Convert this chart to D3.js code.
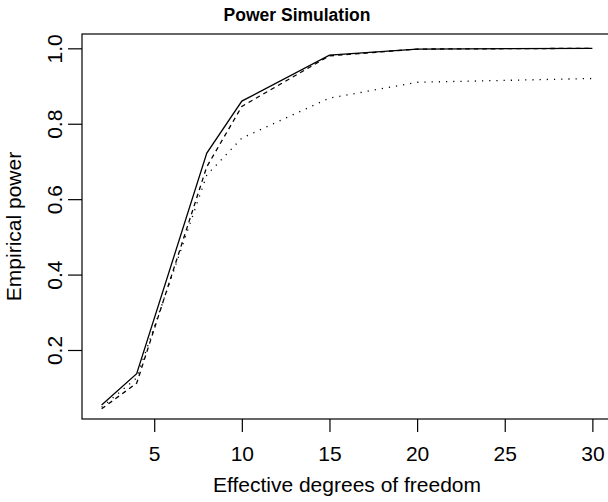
<!DOCTYPE html>
<html>
<head>
<meta charset="utf-8">
<script src="https://cdn.jsdelivr.net/npm/d3@7"></script>
<style>
  body { margin: 0; background: #fff; }
  text { font-family: "Liberation Sans", Arial, Helvetica, sans-serif; fill: #000; }
</style>
</head>
<body>
<svg id="chart"></svg>
<script>
// effective degrees of freedom and empirical power for three tests
var dfs = [2, 4, 8, 10, 15, 20, 30];
var solidPower  = [0.054, 0.137, 0.722, 0.860, 0.982, 0.998, 1.000];
var dashedPower = [0.044, 0.112, 0.686, 0.846, 0.980, 0.998, 1.000];
var dottedPower = [0.048, 0.126, 0.664, 0.762, 0.868, 0.910, 0.920];
var xTicks = [5, 10, 15, 20, 25, 30];
var yTicks = [0.2, 0.4, 0.6, 0.8, 1.0];

var W = 608, H = 502;
var margin = {top: 34, right: -4, bottom: 83, left: 82};
var w = W - margin.left - margin.right;
var h = H - margin.top - margin.bottom;

var svg = d3.select("#chart").attr("width", W).attr("height", H);
var g = svg.append("g").attr("transform", `translate(${margin.left}, ${margin.top})`);

var x = d3.scaleLinear().domain([0.88, 31.12]).range([0, w]);
var y = d3.scaleLinear().domain([0.017, 1.038]).range([h, 0]);

// box
g.append("rect")
  .attr("x", 0).attr("y", 0).attr("width", w).attr("height", h)
  .attr("fill", "none").attr("stroke", "#000").attr("stroke-width", 1.2);

var xAxis = g.append("g").attr("transform", `translate(0, ${h})`)
  .call(d3.axisBottom(x).tickValues(xTicks).tickSize(13).tickFormat(d3.format("d")));
var yAxis = g.append("g")
  .call(d3.axisLeft(y).tickValues(yTicks).tickSize(14).tickFormat(d3.format(".1f")));

[xAxis, yAxis].forEach(a => {
  a.select(".domain").remove();
  a.selectAll("line").attr("stroke", "#000").attr("stroke-width", 1.2);
  a.selectAll("text").style("font-size", "21px").attr("font-family", null);
});
xAxis.selectAll("text").attr("dy", null).attr("y", 42);
yAxis.selectAll("text")
  .attr("x", null).attr("dy", null)
  .attr("text-anchor", "middle")
  .attr("transform", "translate(-20, 0) rotate(-90)");

var line = d3.line().x(d => x(d[0])).y(d => y(d[1]));
var series = [
  {vals: solidPower, dash: null},
  {vals: dashedPower, dash: "4.5,4"},
  {vals: dottedPower, dash: "1.2,6"}
];
series.forEach(s => {
  g.append("path")
    .datum(dfs.map((d, i) => [d, s.vals[i]]))
    .attr("fill", "none")
    .attr("stroke", "#000")
    .attr("stroke-width", 1.3)
    .attr("stroke-dasharray", s.dash)
    .attr("d", line);
});

svg.append("text")
  .attr("x", 297).attr("y", 21)
  .attr("text-anchor", "middle")
  .style("font-size", "17.5px").style("font-weight", "bold")
  .text("Power Simulation");

svg.append("text")
  .attr("x", margin.left + w / 2).attr("y", 492)
  .attr("text-anchor", "middle")
  .style("font-size", "21px")
  .text("Effective degrees of freedom");

svg.append("text")
  .attr("transform", `translate(21, ${margin.top + h / 2}) rotate(-90)`)
  .attr("text-anchor", "middle")
  .style("font-size", "21px")
  .text("Empirical power");
</script>
</body>
</html>
